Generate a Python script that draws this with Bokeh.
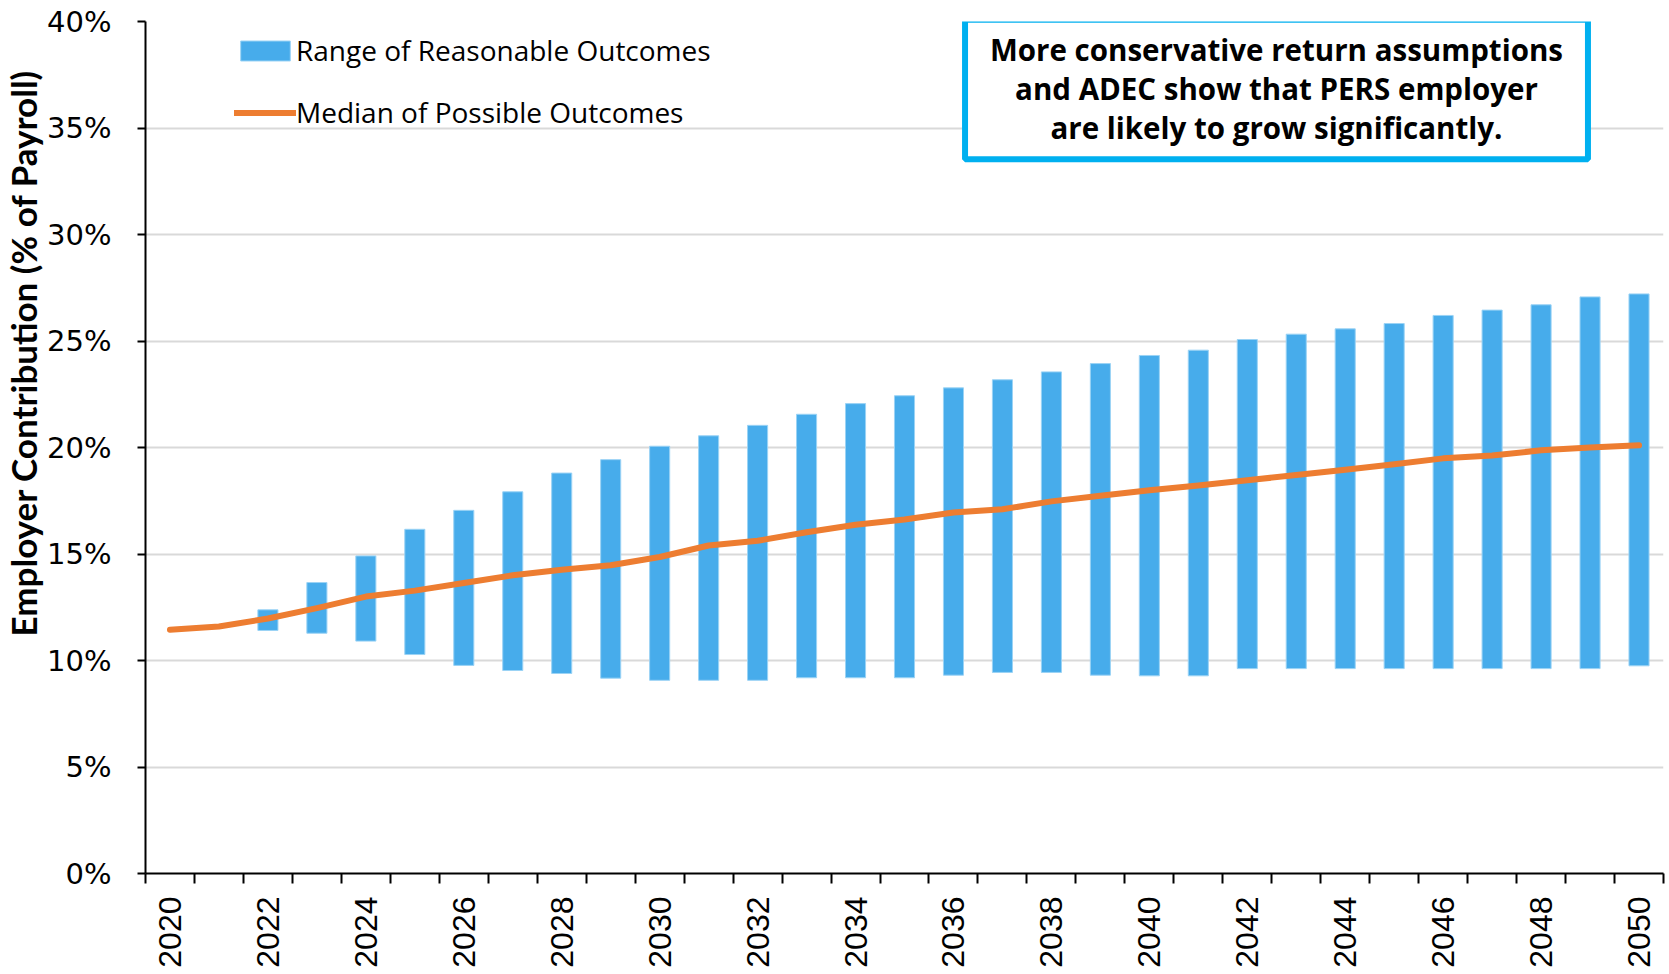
import math
from bokeh.plotting import figure
from bokeh.models import (FixedTicker, PrintfTickFormatter, Legend, LegendItem,
                          Label, Range1d, Title)
from bokeh.embed import file_html
from bokeh.resources import INLINE

# ---------------- data ----------------
years = list(range(2020, 2051))
median = [11.44, 11.6, 11.97, 12.46, 13.0, 13.28, 13.64, 14.0, 14.26, 14.47,
          14.86, 15.4, 15.62, 16.02, 16.37, 16.62, 16.95, 17.1, 17.47, 17.73,
          17.99, 18.22, 18.46, 18.71, 18.96, 19.21, 19.49, 19.62, 19.87, 20.0, 20.1]

range_years = list(range(2022, 2051))
range_low = [11.41, 11.28, 10.91, 10.28, 9.77, 9.53, 9.39, 9.17, 9.07, 9.07,
             9.07, 9.19, 9.19, 9.19, 9.31, 9.44, 9.44, 9.31, 9.28, 9.28,
             9.62, 9.62, 9.62, 9.62, 9.62, 9.62, 9.62, 9.62, 9.75]
range_high = [12.38, 13.66, 14.91, 16.16, 17.05, 17.92, 18.8, 19.43, 20.06, 20.55,
              21.04, 21.56, 22.06, 22.43, 22.8, 23.18, 23.55, 23.94, 24.32, 24.57,
              25.07, 25.32, 25.57, 25.82, 26.2, 26.45, 26.7, 27.07, 27.21]

y_ticks = [0, 5, 10, 15, 20, 25, 30, 35, 40]
x_label_years = list(range(2020, 2051, 2))
x_boundaries = [y - 0.5 for y in range(2020, 2052)]

series_names = ["Range of Reasonable Outcomes", "Median of Possible Outcomes"]
y_title = "Employer Contribution (% of Payroll)"
note = "More conservative return assumptions\nand ADEC show that PERS employer\nare likely to grow significantly."

BLUE = "#47ACEB"
ORANGE = "#ED7D31"

# ---------------- figure ----------------
p = figure(width=1669, height=974, output_backend="svg", toolbar_location=None,
           x_range=Range1d(2019.5, 2050.5), y_range=Range1d(0, 40),
           min_border_left=144, min_border_right=6, min_border_top=21,
           min_border_bottom=101)
p.outline_line_color = None
p.background_fill_color = "white"
p.border_fill_color = "white"

bars = p.vbar(x=range_years, bottom=range_low, top=range_high, width=0.41,
              fill_color=BLUE, line_color="#9BD3F5", line_width=1)
line = p.line(x=years, y=median, line_color=ORANGE, line_width=6,
              line_cap="round", line_join="round")

# y axis
p.yaxis.ticker = FixedTicker(ticks=y_ticks)
p.yaxis.formatter = PrintfTickFormatter(format="%d%%")
p.yaxis.major_label_text_font = "DejaVu Sans"
p.yaxis.major_label_text_font_size = "29px"
p.yaxis.major_label_text_color = "black"
p.yaxis.major_label_standoff = 26
p.yaxis.major_tick_out = 8
p.yaxis.major_tick_in = 0
p.yaxis.major_tick_line_width = 2
p.yaxis.major_tick_line_color = "black"
p.yaxis.minor_tick_line_color = None
p.yaxis.axis_line_width = 2
p.yaxis.axis_line_color = "black"

# x axis
p.xaxis.ticker = FixedTicker(ticks=x_label_years, minor_ticks=x_boundaries)
p.xaxis.major_label_orientation = math.pi / 2
p.xaxis.major_label_text_font = "Liberation Sans"
p.xaxis.major_label_text_font_size = "32px"
p.xaxis.major_label_text_color = "black"
p.xaxis.major_label_standoff = 13
p.xaxis.major_tick_line_color = None
p.xaxis.major_tick_out = 10
p.xaxis.major_tick_in = 0
p.xaxis.minor_tick_out = 10
p.xaxis.minor_tick_in = 0
p.xaxis.minor_tick_line_width = 2
p.xaxis.minor_tick_line_color = "black"
p.xaxis.axis_line_width = 2
p.xaxis.axis_line_color = "black"

# grid
p.xgrid.grid_line_color = None
p.ygrid.grid_line_color = "#D9D9D9"
p.ygrid.grid_line_width = 2

# y axis title (outer left panel)
p.add_layout(Title(text=y_title, align="left", offset=237, vertical_align="middle",
                   text_font="Lato", text_font_style="bold",
                   text_font_size="35px", text_color="black", standoff=0), "left")

# legend
legend = Legend(items=[LegendItem(label=series_names[0], renderers=[bars]),
                       LegendItem(label=series_names[1], renderers=[line])],
                location=(89, 742), orientation="vertical",
                glyph_width=62, glyph_height=25, label_height=25,
                label_standoff=0, spacing=24, padding=0, margin=0,
                border_line_color=None, background_fill_alpha=0,
                label_text_font="Open Sans", label_text_font_size="28px",
                label_text_color="black")
p.add_layout(legend, "center")

# note box
p.add_layout(Label(x=1131, y=784, x_units="screen", y_units="screen",
                   text=note, text_align="center", text_baseline="middle",
                   text_font="Open Sans", text_font_style="bold",
                   text_font_size="29.5px", text_line_height=0.958,
                   text_color="black", background_fill_color="white",
                   border_line_color="#00B0F0", border_line_width=6,
                   padding=(25, 25, 9, 11)))

open("out.html", "w").write(file_html(p, INLINE))
